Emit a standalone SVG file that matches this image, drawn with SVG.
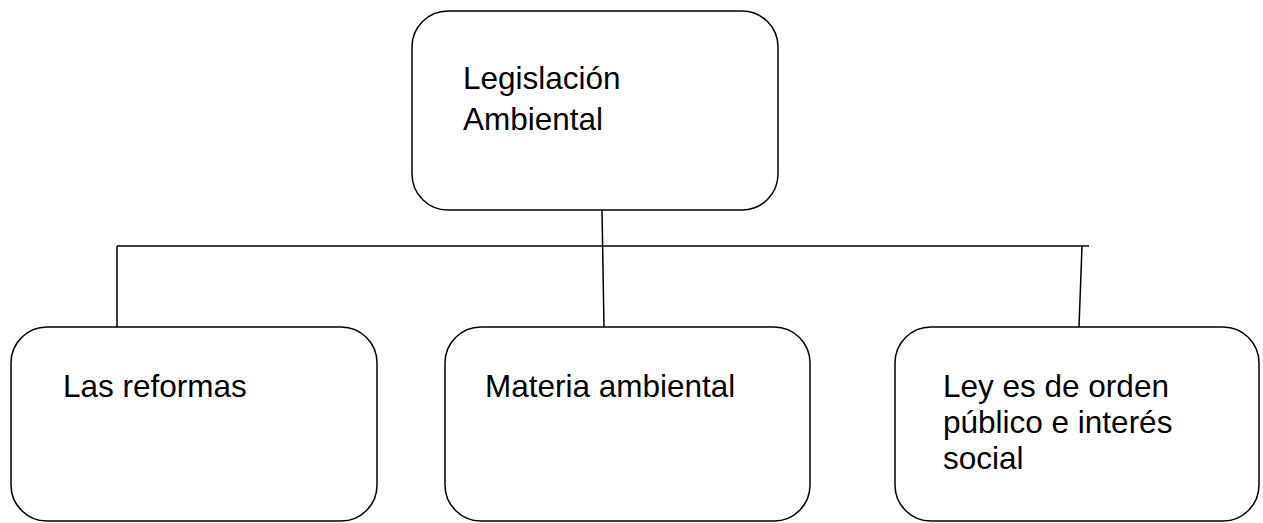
<svg xmlns="http://www.w3.org/2000/svg" width="1263" height="523" viewBox="0 0 1263 523">
<style>
.box{fill:#fff;stroke:#000;stroke-width:1.5}
.ln{stroke:#000;stroke-width:1.5;fill:none}
text{font-family:"Liberation Sans",Arial,sans-serif;font-size:31.5px;fill:#000}
</style>
<rect width="1263" height="523" fill="#fff"/>
<g id="connectors">
<line class="ln" x1="117" y1="246" x2="1089" y2="246"/>
<line class="ln" x1="117" y1="246" x2="117" y2="327"/>
<line class="ln" x1="602" y1="210" x2="604" y2="327"/>
<line class="ln" x1="1082" y1="246" x2="1079" y2="327"/>
</g>
<g id="node-legislacion">
<rect class="box" x="412" y="11" width="366" height="199" rx="36" ry="36"/>
<text x="463" y="89">Legislación</text>
<text x="463" y="130">Ambiental</text>
</g>
<g id="node-reformas">
<rect class="box" x="11" y="327" width="366" height="194" rx="36" ry="36"/>
<text x="63" y="397">Las reformas</text>
</g>
<g id="node-materia">
<rect class="box" x="445" y="327" width="365" height="194" rx="36" ry="36"/>
<text x="485" y="397">Materia ambiental</text>
</g>
<g id="node-ley">
<rect class="box" x="895" y="327" width="364" height="194" rx="36" ry="36"/>
<text x="943" y="397">Ley es de orden</text>
<text x="943" y="433">público e interés</text>
<text x="943" y="469">social</text>
</g>
</svg>
